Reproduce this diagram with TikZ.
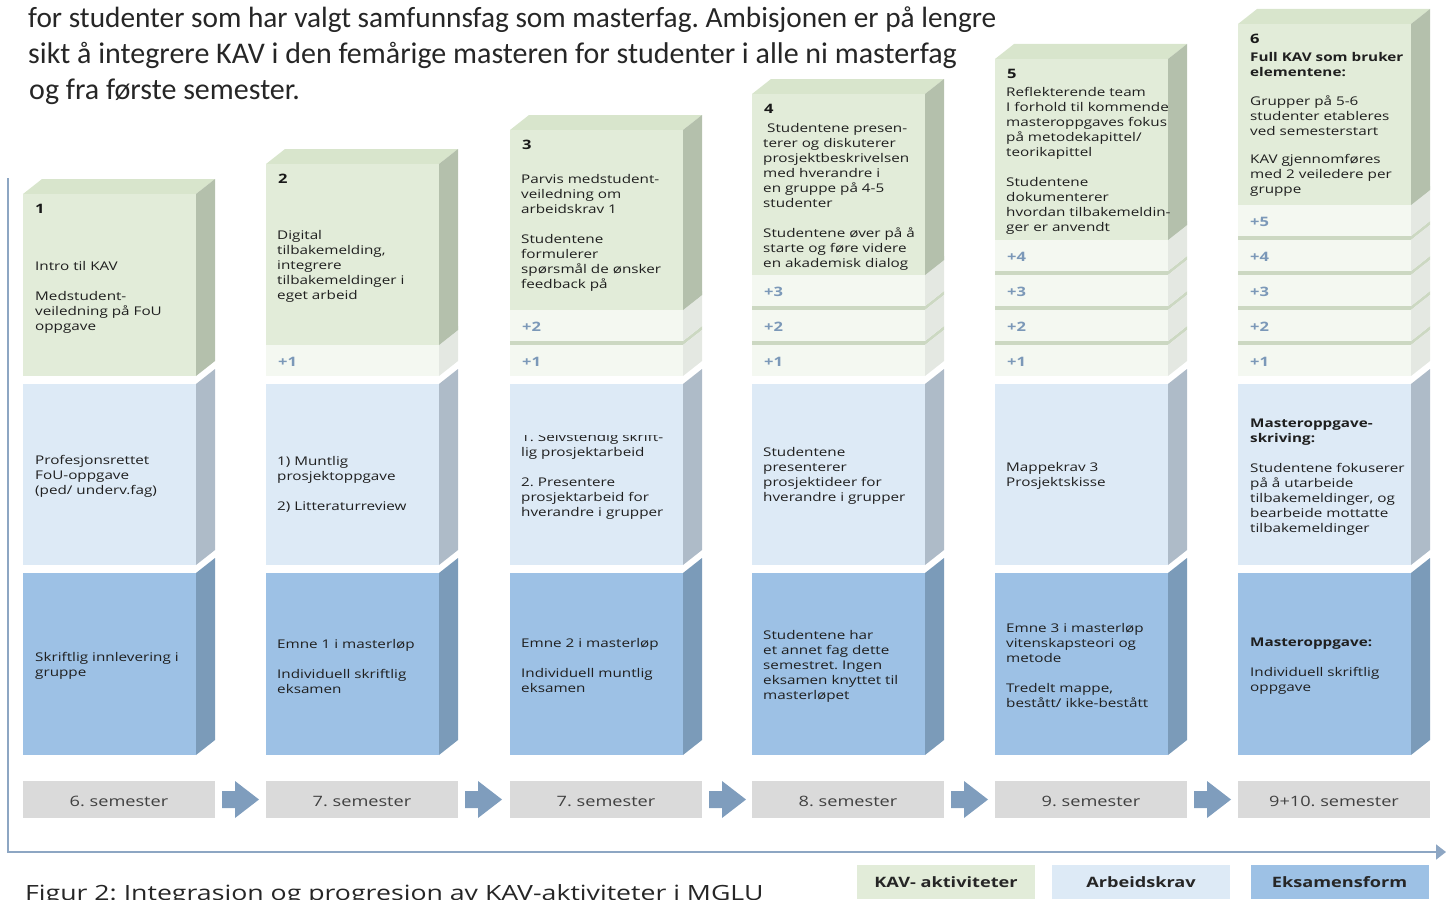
\documentclass[tikz,border=0pt]{standalone}
\usepackage{fontspec}
\setmainfont{Open Sans}
\newfontfamily\boxfont[FakeStretch=1.27]{Open Sans}
\newfontfamily\parafont{Carlito}
\usetikzlibrary{arrows.meta}
\frenchspacing

\definecolor{kavfront}{HTML}{E2ECD9}
\definecolor{kavside}{HTML}{B4C0AC}
\definecolor{kavtop}{HTML}{D8E5CC}
\definecolor{stepfront}{HTML}{F4F8F1}
\definecolor{stepside}{HTML}{E4E8E2}
\definecolor{stepline}{HTML}{CCD8C2}
\definecolor{kravfront}{HTML}{DDEAF6}
\definecolor{kravside}{HTML}{AEBBC8}
\definecolor{eksfront}{HTML}{9DC1E5}
\definecolor{eksside}{HTML}{7B9BB9}
\definecolor{semgray}{HTML}{DADADA}
\definecolor{arrowblue}{HTML}{7F9DBD}
\definecolor{frameblue}{HTML}{8DA6C3}
\definecolor{steptext}{HTML}{7B98B8}

\tikzset{
  boxtext/.style={anchor=west, align=left, inner sep=0pt, text=black!88,
    font=\boxfont\fontsize{12}{15}\selectfont},
  numtext/.style={anchor=west, inner sep=0pt, text=black!90,
    font=\boxfont\bfseries\fontsize{13}{15}\selectfont},
  plustext/.style={anchor=west, inner sep=0pt, text=steptext,
    font=\boxfont\bfseries\fontsize{13}{15}\selectfont},
  semester/.style={fill=semgray, minimum width=192pt, minimum height=37pt,
    inner sep=0pt, text height=14.2pt, text depth=0pt, text=black!75,
    font=\boxfont\fontsize{14.3}{16}\selectfont},
  legend/.style={minimum width=178pt, minimum height=34pt, inner sep=0pt,
    text=black!85, font=\boxfont\bfseries\fontsize{14.3}{16}\selectfont},
  paraline/.style={anchor=base west, inner sep=0pt, text=black!85,
    font=\parafont\fontsize{30}{35}\selectfont}
}

\begin{document}
\begin{tikzpicture}[x=1pt,y=-1pt]
  \useasboundingbox (0,0) rectangle (1447,899);

  % text above the figure
  \node[paraline, font=\parafont\fontsize{29.3}{35}\selectfont] (para1) at (28,28) {for studenter som har valgt samfunnsfag som masterfag. Ambisjonen er på lengre};
  \node[paraline] (para2) at (28,63.5) {sikt å integrere KAV i den femårige masteren for studenter i alle ni masterfag};
  \node[paraline] (para3) at (29,99) {og fra første semester.};

  % frame with time axis
  \coordinate (ftop) at (8,178);
  \coordinate (fcorner) at (8,852);
  \coordinate (fend) at (1446,852);
  \draw[frameblue, line width=1.8pt, -{Triangle[length=10pt,width=15pt]}] (ftop) -- (fcorner) -- (fend);

  % the six columns
  \foreach \k/\L/\top/\sem in {1/23/194/6. semester, 2/266/164/7. semester,
      3/510/130/7. semester, 4/752/94/8. semester, 5/995/59/9. semester,
      6/1238/24/9+10. semester} {
    \pgfmathsetmacro\R{\L+173}
    \pgfmathsetmacro\D{\R+19}
    \pgfmathsetmacro\bot{\k==1 ? 376 : 415-35*\k}

    % eksamensform
    \fill[eksside] (\R,573) -- (\D,558) -- (\D,740) -- (\R,755) -- cycle;
    \fill[eksfront] (\L,573) rectangle (\R,755);

    % arbeidskrav
    \fill[kravside] (\R,384) -- (\D,369) -- (\D,550) -- (\R,565) -- cycle;
    \fill[kravfront] (\L,384) rectangle (\R,565);

    % +n steps
    \foreach \j in {1,...,5} {
      \ifnum\j<\k
        \pgfmathsetmacro\t{380-35*\j}
        \fill[stepline] (\L,\t-4) -- (\R,\t-4) -- (\D,\t-19) -- (\D,\t-15) -- (\R,\t) -- (\L,\t) -- cycle;
        \fill[stepside] (\R,\t) -- (\D,\t-15) -- (\D,\t+16) -- (\R,\t+31) -- cycle;
        \fill[stepfront] (\L,\t) rectangle (\R,\t+31);
        \node[plustext] (p\k-\j) at (\L+12,\t+16.5) {+\j};
      \fi
    }

    % KAV block
    \fill[kavtop] (\L,\top) -- (\L+19,\top-15) -- (\D,\top-15) -- (\R,\top) -- cycle;
    \fill[kavside] (\R,\top) -- (\D,\top-15) -- (\D,\bot-15) -- (\R,\bot) -- cycle;
    \fill[kavfront] (\L,\top) rectangle (\R,\bot);
    \node[numtext] (num\k) at (\L+12,\top+15) {\k};

    % semester
    \node[semester] (sem\k) at (\L+96,799.5) {\sem};
  }

  % arrows between the semesters
  \foreach \L in {23,266,510,752,995}
    \fill[arrowblue] (\L+199,791) -- (\L+212,791) -- (\L+212,781) -- (\L+236,799.5)
      -- (\L+212,818) -- (\L+212,808) -- (\L+199,808) -- cycle;

  % KAV texts
  \node[boxtext] (kav1) at (35,297) {Intro til KAV\\[15pt]Medstudent-\\veiledning på FoU\\oppgave};
  \node[boxtext] (kav2) at (277,266.5) {Digital\\tilbakemelding,\\integrere\\tilbakemeldinger i\\eget arbeid};
  \node[boxtext] (kav3) at (521,233) {Parvis medstudent-\\veiledning om\\arbeidskrav 1\\[15pt]Studentene\\formulerer\\spørsmål de ønsker\\feedback på};
  \node[boxtext] (kav4) at (763,196.5) {\hspace*{4pt}Studentene presen-\\terer og diskuterer\\prosjektbeskrivelsen\\med hverandre i\\en gruppe på 4-5\\studenter\\[15pt]Studentene øver på å\\starte og føre videre\\en akademisk dialog};
  \node[boxtext] (kav5) at (1006,160.5) {Reflekterende team\\I forhold til kommende\\masteroppgaves fokus\\på metodekapittel/\\teorikapittel\\[15pt]Studentene\\dokumenterer\\hvordan tilbakemeldin-\\ger er anvendt};
  \node[boxtext] (kav6) at (1250,124) {\textbf{Full KAV som bruker}\\\textbf{elementene:}\\[14pt]Grupper på 5-6\\studenter etableres\\ved semesterstart\\[13pt]KAV gjennomføres\\med 2 veiledere per\\gruppe};

  % arbeidskrav texts
  \node[boxtext] (krav1) at (35,476) {Profesjonsrettet\\FoU-oppgave\\(ped/ underv.fag)};
  \node[boxtext] (krav2) at (277,484) {1) Muntlig\\prosjektoppgave\\[15pt]2) Litteraturreview};
  \begin{scope}
    \clip (510,435) rectangle (682,565);
    \node[boxtext] (krav3) at (521,476) {1. Selvstendig skrift-\\lig prosjektarbeid\\[15pt]2. Presentere\\prosjektarbeid for\\hverandre i grupper};
  \end{scope}
  \node[boxtext] (krav4) at (763,476) {Studentene\\presenterer\\prosjektideer for\\hverandre i grupper};
  \node[boxtext] (krav5) at (1006,475.5) {Mappekrav 3\\Prosjektskisse};
  \node[boxtext] (krav6) at (1250,477) {\textbf{Masteroppgave-}\\\textbf{skriving:}\\[15pt]Studentene fokuserer\\på å utarbeide\\tilbakemeldinger, og\\bearbeide mottatte\\tilbakemeldinger};

  % eksamensform texts
  \node[boxtext] (eks1) at (35,666) {Skriftlig innlevering i\\gruppe};
  \node[boxtext] (eks2) at (277,666) {Emne 1 i masterløp\\[15pt]Individuell skriftlig\\eksamen};
  \node[boxtext] (eks3) at (521,665.5) {Emne 2 i masterløp\\[15pt]Individuell muntlig\\eksamen};
  \node[boxtext] (eks4) at (763,666) {Studentene har\\et annet fag dette\\semestret. Ingen\\eksamen knyttet til\\masterløpet};
  \node[boxtext] (eks5) at (1006,665.5) {Emne 3 i masterløp\\vitenskapsteori og\\metode\\[15pt]Tredelt mappe,\\bestått/ ikke-bestått};
  \node[boxtext] (eks6) at (1250,666) {\textbf{Masteroppgave:}\\[15pt]Individuell skriftlig\\oppgave};

  % legend and caption
  \node[legend, fill=kavfront] (leg1) at (946,882) {KAV- aktiviteter};
  \node[legend, fill=kravfront] (leg2) at (1141,882) {Arbeidskrav};
  \node[legend, fill=eksfront] (leg3) at (1339.5,882) {Eksamensform};
  \node[anchor=base west, inner sep=0pt, text=black!85, font=\boxfont\fontsize{21}{26}\selectfont]
    (caption) at (25,900) {Figur 2: Integrasjon og progresjon av KAV-aktiviteter i MGLU};
\end{tikzpicture}
\end{document}
